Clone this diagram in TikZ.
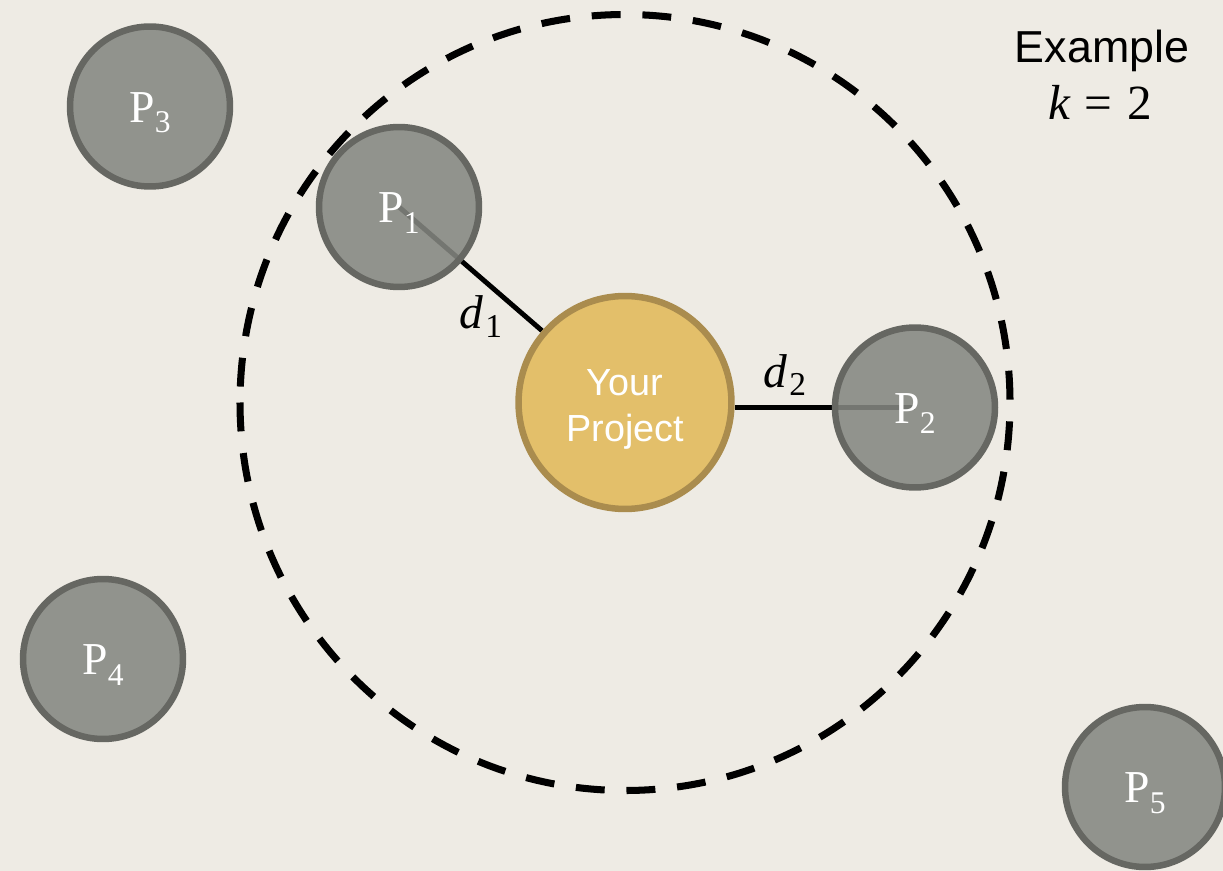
\RequirePackage{fix-cm}
\documentclass[tikz,border=0pt]{standalone}
\usepackage{fontspec}
\setsansfont{Liberation Sans}
\newfontfamily\pfont{Liberation Serif}
\usetikzlibrary{calc}
\definecolor{bgc}{HTML}{EEEBE4}
\definecolor{pfill}{HTML}{858781}
\definecolor{pborder}{HTML}{666762}
\definecolor{ypfill}{HTML}{E3BF6A}
\definecolor{ypborder}{HTML}{AA8C4E}
\pgfdeclarelayer{bglayer}
\pgfdeclarelayer{linelayer}
\pgfsetlayers{bglayer,linelayer,main}
\newcommand{\plab}[1]{\raisebox{-3.4pt}[\height][\depth]{\pfont P\raisebox{-6pt}{\fontsize{18}{20}\selectfont #1}}}
\newcommand{\dsub}[1]{{\pfont\itshape d}\kern1pt\raisebox{-5pt}{\pfont\fontsize{19}{20}\selectfont #1}}
\tikzset{
  pnode/.style={circle, draw=pborder, fill=pfill, line width=3.7pt,
    minimum size=3.2cm, inner sep=0pt, fill opacity=0.88, text opacity=1,
    text=white, font=\fontsize{26}{30}\selectfont},
  ypnode/.style={circle, draw=ypborder, fill=ypfill, line width=3.7pt,
    minimum size=4.26cm, inner sep=0pt, text=white, align=center,
    font=\sffamily\fontsize{21.5}{26}\selectfont},
  link/.style={line width=2.8pt, black},
  ring/.style={line width=4pt, black, dash pattern=on 16.44pt off 12.43pt},
  dlab/.style={anchor=base, inner sep=0pt, font=\fontsize{27}{30}\selectfont},
}
\begin{document}
\begin{tikzpicture}[x=0.02cm, y=-0.02cm]
\useasboundingbox (0,0) rectangle (1223,871);
\begin{pgfonlayer}{bglayer}
  \fill[bgc] (0,0) rectangle (1223,871);
\end{pgfonlayer}
\node[ypnode] (yp) at (625,402.5) {\raisebox{-4pt}[\height][\depth]{Your}\\\raisebox{-4pt}[\height][\depth]{Project}};
\node[pnode] (p1) at (399,207) {\plab{1}};
\node[pnode] (p2) at (915,407.5) {\plab{2}};
\node[pnode] (p3) at (150,106.5) {\plab{3}};
\node[pnode] (p4) at (103,659) {\plab{4}};
\node[pnode] (p5) at (1145,787) {\plab{5}};
\begin{pgfonlayer}{linelayer}
  \draw[link] (p1.center) -- (yp);
  \draw[link] (p2.center) -- (p2.center -| yp.east);
  \draw[ring] (yp.center) ++(-385,0) arc[start angle=180, end angle=-180, x radius=385, y radius=388];
\end{pgfonlayer}
\node[dlab] (d1) at (481,329) {\dsub{1}};
\node[dlab] (d2) at (785,387) {\dsub{2}};
\node[anchor=base, inner sep=0pt, font=\sffamily\fontsize{25.5}{30}\selectfont] (ex) at (1102,63) {Example};
\node[anchor=base, inner sep=0pt, font=\pfont\fontsize{28}{32}\selectfont] (kk) at (1100,120) {{\itshape k}\hspace{0.3em}=\hspace{0.3em}2};
\end{tikzpicture}
\end{document}
